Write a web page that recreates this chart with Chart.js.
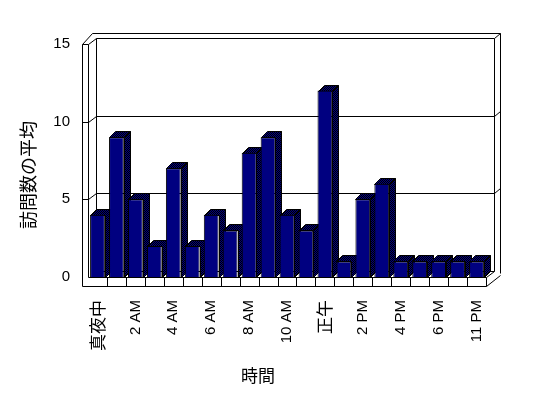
<!DOCTYPE html>
<html>
<head>
<meta charset="utf-8">
<script src="https://cdn.jsdelivr.net/npm/chart.js@4/dist/chart.umd.min.js"></script>
<style>
  html, body { margin: 0; padding: 0; background: #fff; }
  #chart { display: block; }
</style>
</head>
<body>
<canvas id="chart" width="548" height="398"></canvas>
<script>
// hours shown on the category axis (only every other one gets a label)
const hours = ["真夜中", "1 AM", "2 AM", "3 AM", "4 AM", "5 AM", "6 AM", "7 AM", "8 AM", "9 AM",
  "10 AM", "11 AM", "正午", "1 PM", "2 PM", "3 PM", "4 PM", "5 PM", "6 PM", "7 PM", "11 PM"]
const visits = [4, 9, 5, 2, 7, 2, 4, 3, 8, 9, 4, 3, 12, 1, 5, 6, 1, 1, 1, 1, 1]
const yTicks = [0, 5, 10, 15]
const xTitle = "時間"
const yTitle = "訪問数の平均"

const FONT = '"Liberation Sans", "Noto Sans CJK JP", sans-serif'
const CJK = '"Noto Sans CJK JP", sans-serif'

// 3d look
const DX = 8, DY = -6       // depth of the walls
const SL = 6, SF = 9        // thickness of left wall and floor
const BKX = 6, BKY = -5     // thickness of back wall
const BD = 6                // depth of a bar

const ctx = document.getElementById("chart").getContext("2d")

// checkered navy/black for the shaded faces
const tile = document.createElement("canvas")
tile.width = 2
tile.height = 2
const tc = tile.getContext("2d")
tc.fillStyle = "#000080"
tc.fillRect(0, 0, 2, 2)
tc.fillStyle = "#000000"
tc.fillRect(0, 0, 1, 1)
tc.fillRect(1, 1, 1, 1)
const shade = ctx.createPattern(tile, "repeat")

function px(v) {
  return Math.round(v) + 0.5
}

function path(c, pts, close) {
  c.beginPath()
  c.moveTo(px(pts[0][0]), px(pts[0][1]))
  for (let i = 1; i < pts.length; i++) c.lineTo(px(pts[i][0]), px(pts[i][1]))
  if (close) c.closePath()
}

const wallsPlugin = {
  id: "walls",
  beforeDatasetsDraw(chart) {
    const c = chart.ctx
    const a = chart.chartArea
    const ys = chart.scales.y
    const xs = chart.scales.x
    const L = a.left, R = a.right
    const B = ys.getPixelForValue(0), T = ys.getPixelForValue(15)
    const line = (pts) => { path(c, pts); c.stroke() }

    c.save()
    c.strokeStyle = "#000"
    c.lineWidth = 1

    // back wall
    line([[L + DX, B + DY], [L + DX, T + DY], [R + DX, T + DY], [R + DX, B + DY]])
    line([[L + DX, B + DY], [R + DX, B + DY]])
    line([[L + 4, T + DY + BKY], [R + DX + BKX, T + DY + BKY], [R + DX + BKX, B + DY + 2]])
    line([[R + DX, T + DY], [R + DX + BKX, T + DY + BKY]])

    // left wall
    line([[L, T], [L, B]])
    line([[L - SL, T], [L - SL, B + SF]])
    line([[L - SL, T], [L, T], [L + DX, T + DY]])
    line([[L - SL, T], [L + 4, T + DY + BKY]])

    // grid lines
    yTicks.forEach(v => {
      if (v === 0 || v === 15) return
      const y = ys.getPixelForValue(v)
      line([[L - SL, y], [L, y], [L + DX, y + DY], [R + DX, y + DY], [R + DX + BKX, y + DY + BKY]])
    })

    // floor
    line([[L, B], [R, B], [R, B + SF], [L - SL, B + SF]])
    line([[R, B], [R + DX, B + DY]])
    line([[R, B + SF], [R + DX + BKX, B + SF + DY + BKY]])
    for (let i = 1; i < hours.length; i++) {
      const x = (xs.getPixelForValue(i - 1) + xs.getPixelForValue(i)) / 2
      line([[x, B], [x, B + SF]])
    }

    // top and side of every bar
    c.fillStyle = shade
    chart.getDatasetMeta(0).data.forEach(bar => {
      const l = bar.x - bar.width / 2, r = bar.x + bar.width / 2
      const t = bar.y, b = bar.base
      path(c, [[l, t], [l + BD, t - BD], [r + BD, t - BD], [r, t]], true)
      c.fill()
      c.stroke()
      path(c, [[r, t], [r + BD, t - BD], [r + BD, b - BD], [r, b]], true)
      c.fill()
      c.stroke()
    })
    c.restore()
  },
  afterDraw(chart) {
    const c = chart.ctx
    const a = chart.chartArea
    c.save()
    c.fillStyle = "#000"
    c.textAlign = "center"
    c.textBaseline = "middle"
    c.font = "17px " + CJK
    c.fillText(xTitle, a.left + 170, 376)
    c.translate(28, a.top + 131)
    c.rotate(-Math.PI / 2)
    c.font = "18px " + CJK
    c.fillText(yTitle, 0, 0)
    c.restore()
  }
}

new Chart(ctx, {
  type: "bar",
  data: {
    labels: hours,
    datasets: [{
      data: visits,
      backgroundColor: "#000080",
      borderColor: "#000000",
      borderWidth: 1,
      barPercentage: 0.78,
      categoryPercentage: 1
    }]
  },
  options: {
    responsive: false,
    animation: false,
    layout: { padding: { top: 44, right: 62, left: 0, bottom: 0 } },
    plugins: {
      legend: { display: false },
      tooltip: { enabled: false }
    },
    scales: {
      x: {
        grid: { display: false, drawTicks: false },
        border: { display: false },
        afterFit: (scale) => { scale.height = 121 },
        ticks: {
          autoSkip: false,
          minRotation: 90,
          maxRotation: 90,
          padding: 23,
          color: "#000",
          font: (c) => /[^\x00-\x7f]/.test(hours[c.index] || "")
            ? { family: CJK, size: 17 }
            : { family: FONT, size: 15 },
          callback: (v, i) => i % 2 === 0 ? hours[i] : ""
        }
      },
      y: {
        min: 0,
        max: 15,
        grid: { display: false, drawTicks: false },
        border: { display: false },
        afterFit: (scale) => { scale.width = 88 },
        ticks: {
          stepSize: 5,
          padding: 18,
          color: "#000",
          font: { family: FONT, size: 15 }
        }
      }
    }
  },
  plugins: [wallsPlugin]
})
</script>
</body>
</html>
